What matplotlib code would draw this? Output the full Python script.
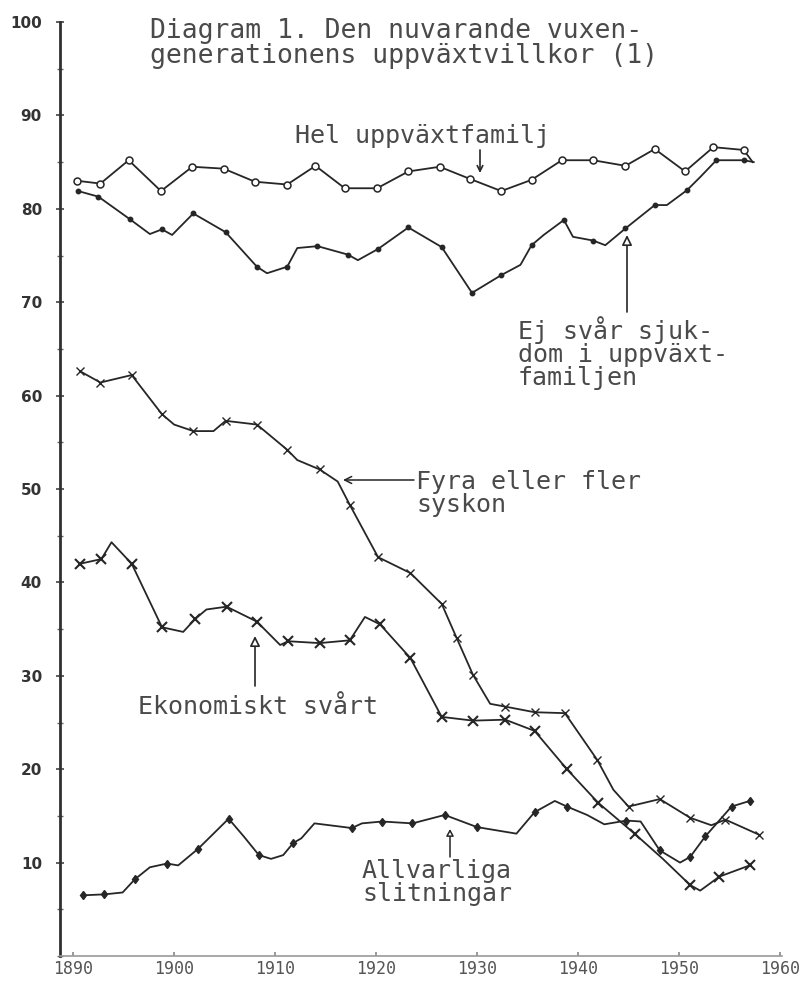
import numpy as np
import matplotlib
matplotlib.use("Agg")
import matplotlib.pyplot as plt
from matplotlib.ticker import MultipleLocator

# --- data (percent of cohort, by birth year) ---
hel_year = [1890.4, 1892.7, 1895.5, 1898.7, 1901.8, 1904.9, 1908.0, 1911.2, 1914.0,
            1916.9, 1920.1, 1923.2, 1926.3, 1929.3, 1932.4, 1935.4, 1938.4, 1941.5,
            1944.7, 1947.6, 1950.6, 1953.4, 1956.4, 1957.3]
hel_val = [83.0, 82.7, 85.2, 81.9, 84.5, 84.3, 82.9, 82.6, 84.6,
           82.2, 82.2, 84.0, 84.5, 83.2, 81.9, 83.1, 85.2, 85.2,
           84.6, 86.4, 84.0, 86.6, 86.3, 85.0]

ej_year = [1890.5, 1892.5, 1895.6, 1897.6, 1898.8, 1899.8, 1901.9, 1905.1, 1908.2,
           1909.2, 1911.2, 1912.2, 1914.2, 1917.2, 1918.2, 1920.2, 1923.2, 1926.5,
           1929.5, 1932.4, 1934.3, 1935.4, 1936.6, 1938.6, 1939.5, 1941.5, 1942.7,
           1944.7, 1947.6, 1948.8, 1950.8, 1952.1, 1953.7, 1956.4, 1957.4]
ej_val = [81.9, 81.3, 78.9, 77.3, 77.8, 77.2, 79.5, 77.5, 73.8,
          73.1, 73.8, 75.8, 76.0, 75.1, 74.5, 75.7, 78.0, 75.9,
          71.0, 72.9, 74.0, 76.1, 77.2, 78.8, 77.0, 76.6, 76.1,
          77.9, 80.4, 80.4, 82.0, 83.4, 85.2, 85.2, 85.0]

fyra_year = [1890.7, 1892.7, 1895.8, 1898.8, 1900.0, 1901.9, 1903.9, 1905.1, 1908.2,
             1911.2, 1912.2, 1914.4, 1916.2, 1917.4, 1920.2, 1923.4, 1926.5, 1928.0,
             1929.6, 1931.3, 1932.8, 1935.7, 1938.7, 1941.9, 1943.5, 1945.0, 1948.1,
             1951.1, 1953.2, 1954.6, 1957.9]
fyra_val = [62.6, 61.4, 62.2, 58.0, 56.9, 56.2, 56.2, 57.3, 56.9,
            54.2, 53.1, 52.1, 50.8, 48.3, 42.7, 41.0, 37.7, 34.0,
            30.1, 27.0, 26.7, 26.1, 26.0, 21.0, 17.8, 16.0, 16.8,
            14.8, 14.0, 14.6, 13.0]

ekon_year = [1890.7, 1892.8, 1893.8, 1895.8, 1898.8, 1900.9, 1902.1, 1903.2, 1905.2,
             1908.2, 1910.5, 1911.3, 1914.4, 1917.4, 1918.9, 1920.4, 1923.4, 1926.5,
             1929.6, 1932.8, 1935.7, 1938.9, 1942.0, 1945.6, 1948.4, 1951.1, 1952.1,
             1954.0, 1957.0]
ekon_val = [42.0, 42.5, 44.3, 42.0, 35.2, 34.7, 36.1, 37.1, 37.4,
            35.8, 33.3, 33.7, 33.5, 33.8, 36.3, 35.5, 31.9, 25.6,
            25.2, 25.3, 24.1, 20.0, 16.4, 13.1, 10.4, 7.6, 7.0,
            8.5, 9.7]

allv_year = [1891.0, 1893.1, 1894.9, 1896.1, 1897.6, 1899.3, 1900.4, 1902.4, 1905.4,
             1906.9, 1908.4, 1909.6, 1910.8, 1911.8, 1912.6, 1913.9, 1917.6, 1918.6,
             1920.6, 1923.6, 1926.8, 1930.0, 1933.9, 1935.7, 1937.7, 1938.9, 1940.9,
             1942.6, 1944.8, 1946.2, 1948.1, 1950.1, 1951.1, 1952.6, 1955.2, 1957.0]
allv_val = [6.5, 6.6, 6.8, 8.2, 9.5, 9.9, 9.7, 11.5, 14.7,
            12.8, 10.8, 10.4, 10.8, 12.1, 12.6, 14.2, 13.7, 14.2,
            14.4, 14.2, 15.1, 13.8, 13.1, 15.4, 16.6, 16.0, 15.1,
            14.1, 14.5, 14.4, 11.3, 10.0, 10.6, 12.8, 16.0, 16.6]

x_ticks = [1890, 1900, 1910, 1920, 1930, 1940, 1950, 1960]
y_ticks = [10, 20, 30, 40, 50, 60, 70, 80, 90, 100]

W, H = 801, 981
ink = "#262626"
txt = "#4a4a4a"
mono = "DejaVu Sans Mono"

fig = plt.figure(figsize=(W / 100, H / 100), dpi=100)
fig.patch.set_facecolor("white")
ax = fig.add_axes([60 / W, 25 / H, 722 / W, 934 / H])

line_kw = dict(color=ink, lw=1.3)
ax.plot(hel_year, hel_val, marker="o", ms=5, mfc="white", mec=ink, mew=1.1,
        markevery=list(range(len(hel_year) - 1)), **line_kw)
ax.plot(ej_year, ej_val, marker="o", ms=3.2, mfc=ink, mec=ink,
        markevery=[0, 1, 2, 4, 6, 7, 8, 10, 12, 13, 15, 16, 17, 18, 19, 21, 23, 25,
                   27, 28, 30, 32, 33], **line_kw)
ax.plot(fyra_year, fyra_val, marker="x", ms=5.5, mec=ink, mew=1.0,
        markevery=[i for i in range(len(fyra_year)) if i not in (4, 6, 10, 12, 19, 24, 28)],
        **line_kw)
ax.plot(ekon_year, ekon_val, marker="x", ms=7, mec=ink, mew=1.5,
        markevery=[i for i in range(len(ekon_year)) if i not in (2, 5, 7, 10, 14, 24, 26)],
        **line_kw)
ax.plot(allv_year, allv_val, marker="d", ms=4.5, mfc=ink, mec=ink,
        markevery=[0, 1, 3, 5, 7, 8, 10, 13, 16, 18, 19, 20, 21, 23, 25, 28, 30, 32,
                   33, 34, 35], **line_kw)

ax.set_xlim(1888.7, 1960.2)
ax.set_ylim(0, 100)
for s in ("top", "right"):
    ax.spines[s].set_visible(False)
ax.spines["left"].set_color("#303030")
ax.spines["left"].set_linewidth(2)
ax.spines["bottom"].set_color("#9a9a9a")
ax.spines["bottom"].set_linewidth(1.2)

ax.set_yticks(y_ticks)
ax.set_yticklabels([str(v) for v in y_ticks], fontsize=11, fontweight="bold",
                   color="#333333", fontfamily="DejaVu Sans")
ax.yaxis.set_minor_locator(MultipleLocator(5))
ax.tick_params(axis="y", which="major", direction="inout", length=6, width=1.2,
               color="#444444", pad=10)
ax.tick_params(axis="y", which="minor", direction="inout", length=4, width=1.0,
               color="#666666")
ax.set_xticks(x_ticks)
ax.set_xticklabels([str(v) for v in x_ticks], fontsize=12, color="#555555",
                   fontfamily=mono)
ax.tick_params(axis="x", direction="in", length=3, width=1.2, color="#888888", pad=3)

# --- annotations (positions in figure pixels) ---
def fx(x):
    return x / W


def fy(y):
    return 1 - y / H


fig.text(fx(150), fy(18), "Diagram 1. Den nuvarande vuxen-\ngenerationens uppväxtvillkor (1)",
         ha="left", va="top", fontsize=19, family=mono, color=txt, linespacing=0.95)

fig.text(fx(295), fy(143), "Hel uppväxtfamilj", ha="left", va="baseline",
         fontsize=18, family=mono, color=txt)
fig.text(fx(518), fy(316), "Ej svår sjuk-\ndom i uppväxt-\nfamiljen", ha="left", va="top",
         fontsize=18, family=mono, color=txt, linespacing=0.95)
fig.text(fx(416), fy(470), "Fyra eller fler\nsyskon", ha="left", va="top",
         fontsize=18, family=mono, color=txt, linespacing=0.95)
fig.text(fx(138), fy(695), "Ekonomiskt svårt", ha="left", va="top",
         fontsize=18, family=mono, color=txt)
fig.text(fx(362), fy(859), "Allvarliga\nslitningar", ha="left", va="top",
         fontsize=18, family=mono, color=txt, linespacing=0.95)

arrow_open = dict(arrowstyle="-|>,head_length=0.6,head_width=0.3", color=ink, lw=1.2,
                  fc="white", shrinkA=0, shrinkB=0)
ax.annotate("", xy=(fx(480), fy(173)), xytext=(fx(480), fy(150)), xycoords="figure fraction",
            arrowprops=dict(arrowstyle="->,head_length=0.4,head_width=0.2", color=ink, lw=1.2,
                            shrinkA=0, shrinkB=0))
ax.annotate("", xy=(fx(627), fy(235)), xytext=(fx(627), fy(312)), xycoords="figure fraction",
            arrowprops=arrow_open)
ax.annotate("", xy=(fx(343), fy(480)), xytext=(fx(414), fy(480)), xycoords="figure fraction",
            arrowprops=dict(arrowstyle="->,head_length=0.5,head_width=0.25", color=ink, lw=1.1,
                            shrinkA=0, shrinkB=0))
ax.annotate("", xy=(fx(255), fy(636)), xytext=(fx(255), fy(686)), xycoords="figure fraction",
            arrowprops=arrow_open)
ax.annotate("", xy=(fx(450), fy(829)), xytext=(fx(450), fy(857)), xycoords="figure fraction",
            arrowprops=dict(arrowstyle="-|>,head_length=0.4,head_width=0.22", color=ink,
                            lw=1.1, fc="white", shrinkA=0, shrinkB=0))

fig.savefig("out.png", dpi=100, facecolor="white")
